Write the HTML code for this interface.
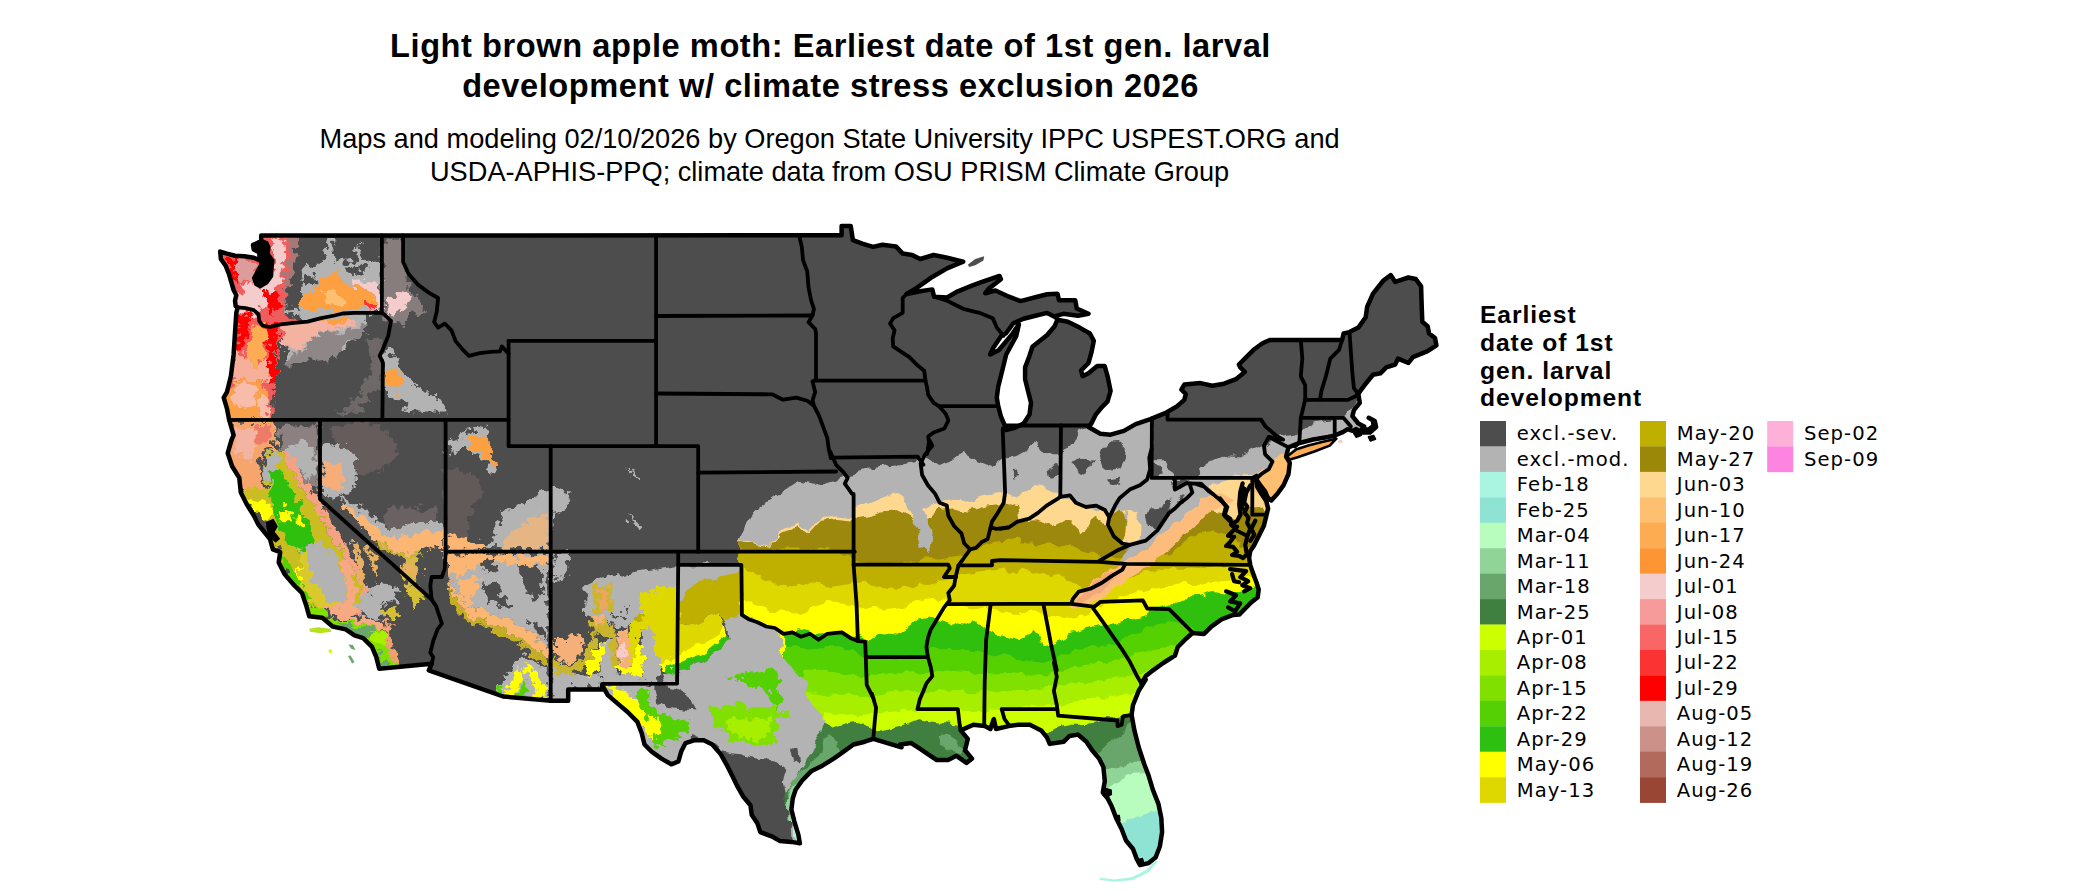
<!DOCTYPE html><html><head><meta charset="utf-8"><title>Light brown apple moth</title>
<style>html,body{margin:0;padding:0;background:#fff}svg{display:block}.t{font-family:"Liberation Sans",sans-serif;fill:#000}.l{font-family:"DejaVu Sans","Liberation Sans",sans-serif;font-size:19.6px;letter-spacing:1.05px;fill:#000}</style></head><body>
<svg width="2100" height="892" viewBox="0 0 2100 892">
<rect width="2100" height="892" fill="#fff"/>
<text class="t" x="830.5" y="57" text-anchor="middle" font-size="32.6" letter-spacing="0.57" font-weight="bold">Light brown apple moth: Earliest date of 1st gen. larval</text>
<text class="t" x="830.5" y="97.2" text-anchor="middle" font-size="32.6" letter-spacing="0.57" font-weight="bold">development w/ climate stress exclusion 2026</text>
<text class="t" x="829.6" y="148.2" text-anchor="middle" font-size="27.2">Maps and modeling 02/10/2026 by Oregon State University IPPC USPEST.ORG and</text>
<text class="t" x="829.6" y="180.7" text-anchor="middle" font-size="27.2">USDA-APHIS-PPQ; climate data from OSU PRISM Climate Group</text>
<text class="t" x="1480" y="323.0" font-size="24.6" letter-spacing="0.96" font-weight="bold">Earliest</text>
<text class="t" x="1480" y="350.8" font-size="24.6" letter-spacing="0.96" font-weight="bold">date of 1st</text>
<text class="t" x="1480" y="378.6" font-size="24.6" letter-spacing="0.96" font-weight="bold">gen. larval</text>
<text class="t" x="1480" y="406.4" font-size="24.6" letter-spacing="0.96" font-weight="bold">development</text>
<rect x="1480" y="421.00" width="26" height="25.74" fill="#4d4d4d"/>
<text class="l" x="1516.8" y="440.4">excl.-sev.</text>
<rect x="1480" y="446.44" width="26" height="25.74" fill="#b3b3b3"/>
<text class="l" x="1516.8" y="465.8">excl.-mod.</text>
<rect x="1480" y="471.88" width="26" height="25.74" fill="#aaf5e1"/>
<text class="l" x="1516.8" y="491.3">Feb-18</text>
<rect x="1480" y="497.32" width="26" height="25.74" fill="#8ee3d3"/>
<text class="l" x="1516.8" y="516.7">Feb-25</text>
<rect x="1480" y="522.76" width="26" height="25.74" fill="#b8fcbe"/>
<text class="l" x="1516.8" y="542.2">Mar-04</text>
<rect x="1480" y="548.20" width="26" height="25.74" fill="#90d498"/>
<text class="l" x="1516.8" y="567.6">Mar-11</text>
<rect x="1480" y="573.64" width="26" height="25.74" fill="#68a66c"/>
<text class="l" x="1516.8" y="593.0">Mar-18</text>
<rect x="1480" y="599.08" width="26" height="25.74" fill="#3f7f3f"/>
<text class="l" x="1516.8" y="618.5">Mar-25</text>
<rect x="1480" y="624.52" width="26" height="25.74" fill="#ccff00"/>
<text class="l" x="1516.8" y="643.9">Apr-01</text>
<rect x="1480" y="649.96" width="26" height="25.74" fill="#a8ee00"/>
<text class="l" x="1516.8" y="669.4">Apr-08</text>
<rect x="1480" y="675.40" width="26" height="25.74" fill="#80e000"/>
<text class="l" x="1516.8" y="694.8">Apr-15</text>
<rect x="1480" y="700.84" width="26" height="25.74" fill="#55d005"/>
<text class="l" x="1516.8" y="720.2">Apr-22</text>
<rect x="1480" y="726.28" width="26" height="25.74" fill="#2ec010"/>
<text class="l" x="1516.8" y="745.7">Apr-29</text>
<rect x="1480" y="751.72" width="26" height="25.74" fill="#ffff00"/>
<text class="l" x="1516.8" y="771.1">May-06</text>
<rect x="1480" y="777.16" width="26" height="25.74" fill="#dfd800"/>
<text class="l" x="1516.8" y="796.6">May-13</text>
<rect x="1640" y="421.00" width="26" height="25.74" fill="#bfb000"/>
<text class="l" x="1676.8" y="440.4">May-20</text>
<rect x="1640" y="446.44" width="26" height="25.74" fill="#9c8808"/>
<text class="l" x="1676.8" y="465.8">May-27</text>
<rect x="1640" y="471.88" width="26" height="25.74" fill="#fed88f"/>
<text class="l" x="1676.8" y="491.3">Jun-03</text>
<rect x="1640" y="497.32" width="26" height="25.74" fill="#fec070"/>
<text class="l" x="1676.8" y="516.7">Jun-10</text>
<rect x="1640" y="522.76" width="26" height="25.74" fill="#fdac52"/>
<text class="l" x="1676.8" y="542.2">Jun-17</text>
<rect x="1640" y="548.20" width="26" height="25.74" fill="#fd9535"/>
<text class="l" x="1676.8" y="567.6">Jun-24</text>
<rect x="1640" y="573.64" width="26" height="25.74" fill="#f5cccc"/>
<text class="l" x="1676.8" y="593.0">Jul-01</text>
<rect x="1640" y="599.08" width="26" height="25.74" fill="#f69a9a"/>
<text class="l" x="1676.8" y="618.5">Jul-08</text>
<rect x="1640" y="624.52" width="26" height="25.74" fill="#f86666"/>
<text class="l" x="1676.8" y="643.9">Jul-15</text>
<rect x="1640" y="649.96" width="26" height="25.74" fill="#fc3333"/>
<text class="l" x="1676.8" y="669.4">Jul-22</text>
<rect x="1640" y="675.40" width="26" height="25.74" fill="#ff0000"/>
<text class="l" x="1676.8" y="694.8">Jul-29</text>
<rect x="1640" y="700.84" width="26" height="25.74" fill="#e8b8b0"/>
<text class="l" x="1676.8" y="720.2">Aug-05</text>
<rect x="1640" y="726.28" width="26" height="25.74" fill="#cc9188"/>
<text class="l" x="1676.8" y="745.7">Aug-12</text>
<rect x="1640" y="751.72" width="26" height="25.74" fill="#b26a5c"/>
<text class="l" x="1676.8" y="771.1">Aug-19</text>
<rect x="1640" y="777.16" width="26" height="25.74" fill="#9a4634"/>
<text class="l" x="1676.8" y="796.6">Aug-26</text>
<rect x="1767.2" y="421.00" width="26" height="25.74" fill="#fdb0d8"/>
<text class="l" x="1804.0" y="440.4">Sep-02</text>
<rect x="1767.2" y="446.44" width="26" height="25.74" fill="#fd84e0"/>
<text class="l" x="1804.0" y="465.8">Sep-09</text>
<defs><clipPath id="us"><path d="M261.2,235.5 L841.6,235.3 L841.6,225.9 L850.7,225.9 L852.9,240.2 L862.3,243.7 L873.1,246.9 L882.5,244.8 L895.9,246.4 L902.7,253.6 L912.1,255 L920.2,259 L933.6,255 L947.1,257.7 L963.2,261.7 L947.1,268.4 L930.9,277.8 L917.5,287.3 L906.7,294 L920.2,291.3 L932.3,289.4 L934.1,296.7 L947.1,297.5 L957.8,291.3 L971.3,285.9 L982,281.9 L999.5,276 L1000.9,279.2 L988.8,288.6 L985.3,293.2 L995.5,290.5 L1008.9,296.7 L1020.6,301.1 L1035.4,297.3 L1047.2,294.3 L1057.5,293.7 L1059,300.2 L1075.2,300.2 L1076.7,308.5 L1088.5,313.8 L1078.1,315.8 L1063.4,313.8 L1056,315.8 L1057.5,319.7 L1067.8,321.7 L1079.6,327.6 L1089.9,333.5 L1093.8,340.9 L1091.4,352.7 L1088.5,363 L1081.1,370.4 L1082.6,376.3 L1088.5,373.3 L1097.3,366 L1104.7,366 L1107.6,376.3 L1110.6,391 L1107.6,401.4 L1101.7,407.3 L1095.8,414.6 L1091.4,423.5 L1088.5,427 L1100.3,433.8 L1110.6,434.7 L1123.9,430.9 L1135.7,424.1 L1150.4,419.1 L1165.1,413.2 L1176.9,406.4 L1184.3,399.9 L1185.8,394 L1181.4,389.6 L1184.3,384.6 L1200.5,383.1 L1212.3,385.7 L1224.1,383.7 L1235.9,379.2 L1244.8,371.9 L1240.3,367.4 L1238.9,364.5 L1244.8,358.6 L1253.6,349.8 L1262.5,343.3 L1269.8,340 L1342.1,340 L1343.6,333.5 L1349.5,332.1 L1358.3,327.6 L1365.7,317.3 L1367.1,307 L1373,293.7 L1383.4,280.5 L1390.7,275.1 L1395.2,281.9 L1408.4,277.5 L1415.8,279 L1421.1,286.4 L1421.7,305.5 L1422.3,321.7 L1427.6,326.2 L1429.1,333.5 L1435,338 L1436.4,345.3 L1427.6,351.2 L1412.9,357.1 L1408.4,363 L1398.1,358.6 L1395.2,364.5 L1386.3,367.4 L1380.4,373.3 L1373,374.8 L1365.7,383.7 L1361.3,389.6 L1358.3,394 L1359.8,402.8 L1353.9,410.2 L1352.4,416.1 L1358.3,423.5 L1364.2,426.4 L1361.3,429.6 L1368.7,429.6 L1373.6,425.9 L1372.9,420.2 L1368.7,417.8 L1374.8,421 L1376.1,427.1 L1369.9,432.6 L1361.3,432.6 L1356.3,429.1 L1352.6,430.8 L1347.7,429.1 L1342.8,432.1 L1334.1,435.8 L1328,437 L1313.2,439.5 L1298.4,443.2 L1288.5,447.4 L1286.1,456.7 L1289.8,462.9 L1288.5,474 L1283.6,485.1 L1277.4,493.7 L1271.3,500.4 L1267.6,497.4 L1265.1,491.3 L1260.2,485.1 L1256,478.9 L1257,486.3 L1261.4,493.7 L1266.3,501.1 L1268.1,508.5 L1266.3,515.9 L1263.9,525.8 L1258.9,535.7 L1254,545.5 L1250.3,550.9 L1249.1,557.8 L1250.3,565.2 L1252.8,572.6 L1256.5,582.5 L1258.7,589.4 L1257.7,597.3 L1251.5,602.2 L1244.1,609.6 L1239.2,614.6 L1233.2,614.9 L1221.5,619.3 L1211.3,626.6 L1204.1,633.9 L1192.4,633 L1186.6,638.2 L1177.8,647 L1174.9,655.7 L1163.2,663 L1153,670.3 L1145.8,676.1 L1141.4,683.4 L1145.7,679.5 L1138.7,690.8 L1133,705 L1131.6,714.8 L1134.4,730.4 L1138.7,747.3 L1144.3,764.3 L1148.6,775.6 L1152.8,789.7 L1158.4,803.8 L1161.3,817.9 L1162.1,832.1 L1159.9,846.2 L1155.6,857.5 L1148.6,863.1 L1140.1,865.1 L1136.7,858.9 L1133,849 L1126,840.5 L1121.7,829.2 L1116.1,817.9 L1111.8,806.6 L1107.6,798.2 L1102.8,792.5 L1104.8,781.2 L1103.4,767.1 L1099.1,758.6 L1092.1,750.2 L1086.4,741.7 L1077.9,734.6 L1069.5,736 L1063.8,741.7 L1049.7,743.9 L1046.9,737.4 L1041.2,730.4 L1029.9,724.7 L1018.6,724.7 L1008.7,726.1 L996,729 L993.8,719.1 L990.4,729 L984.7,726.1 L973.4,724.7 L960.7,730.4 L967.8,738.9 L965,750.2 L972,758.6 L966.4,762.9 L956.5,755.8 L948,760 L936.7,760 L928.2,754.4 L919.8,748.7 L911.3,743.1 L900,744.5 L901.5,747.3 L887.4,743.1 L873.3,738.9 L864.8,741.7 L853.5,744.5 L843.6,751.6 L833.7,758.6 L822.4,765.7 L811.1,771.3 L802.7,779.8 L795.6,789.7 L792.8,798.2 L791.4,809.5 L794.2,820.8 L798.4,834.9 L799.9,843.4 L791.4,841.9 L780.1,841.1 L771.6,836.3 L760.3,832.1 L757.5,823.6 L751.8,815.1 L750.4,805.2 L743.4,796.8 L737.7,786.9 L732.1,775.6 L726.4,764.3 L720.8,754.4 L712.3,744.5 L703.8,740.3 L693.9,740.3 L685.5,743.1 L681.2,751.6 L678.4,761.5 L671.3,764.3 L661.5,758.6 L651.6,751.6 L644.5,744.5 L641.7,733.2 L637.4,721.9 L627.6,712 L617.7,703.6 L607.8,695.1 L602.1,685.2 L602.1,689.4 L568.2,689.4 L568.2,700.7 L551.3,700.7 L503.1,696.5 L428.8,670.3 L431.7,663.8 L379.2,668.8 L376.3,657.1 L372,646.9 L363.2,638.2 L354.5,635.3 L345.7,629.4 L332.6,626.5 L322.4,617.8 L309.3,616.3 L306.4,606.1 L302,593 L293.3,584.3 L284.5,574.1 L278.7,562.4 L280.2,552.2 L272.9,549.3 L270,539.1 L258.3,524.5 L253.9,515.8 L246.6,504.1 L240.8,492.5 L239.3,477.9 L232.1,466.2 L227.7,453.1 L231.5,440 L233.6,435.2 L229.1,419.6 L226.9,408.3 L223.7,397.6 L226.9,392.2 L230.9,376 L233.6,354.5 L235,333 L236.3,312.8 L237.7,307.4 L235.7,306.1 L235,300.7 L236.3,295.3 L233.6,290 L231.6,283.2 L228.9,273.8 L225.6,265.7 L220.9,259 L220.2,251.6 L226.9,253.6 L235,255.7 L244.4,256.3 L253.8,257.7 L259.9,260.4 L259.2,252.3 L253.8,249.6 L253.1,244.9 L257.9,242.9 L261.2,240.2Z"/><path d="M1288,455.7 L1295.9,449.6 L1308.3,445.6 L1323.1,441.7 L1336.4,438.7 L1329.7,445.6 L1314.4,451.5 L1298.4,457 L1288.5,459.9Z"/></clipPath><clipPath id="nolake"><path clip-rule="evenodd" d="M0,0H2100V892H0Z M1056,317.6 L1047.2,312.9 L1035.4,315.8 L1023.6,318.8 L1013.3,323.2 L1005.9,333.5 L1001.9,334.9 L993.3,347.8 L990.1,354.5 L998.7,350.2 L1012.2,334.1 L1018.9,324.4 L1016.2,336.2 L1006.2,354.5 L1002.2,370.7 L998.2,386.8 L996.8,397.6 L998.2,406.2 L1000.9,416.4 L1004.9,425.8 L1005.9,430 L1014.7,427.9 L1023.6,423.5 L1029.5,414.6 L1031,402.8 L1028,391 L1025.1,379.2 L1025.1,367.4 L1029.5,355.7 L1032.4,346.8 L1047.2,335 L1054.6,326.2 L1057.5,319.7Z"/></clipPath></defs>
<defs><filter id="rough" x="0" y="0" width="2100" height="892" filterUnits="userSpaceOnUse"><feTurbulence type="fractalNoise" baseFrequency="0.09" numOctaves="2" seed="7" result="n"/><feDisplacementMap in="SourceGraphic" in2="n" scale="9" xChannelSelector="R" yChannelSelector="G"/></filter><filter id="rough2" x="0" y="0" width="2100" height="892" filterUnits="userSpaceOnUse"><feTurbulence type="fractalNoise" baseFrequency="0.13" numOctaves="3" seed="3" result="n"/><feDisplacementMap in="SourceGraphic" in2="n" scale="16" xChannelSelector="R" yChannelSelector="G"/></filter></defs>
<g clip-path="url(#nolake)"><g clip-path="url(#us)">
<rect x="200" y="200" width="1300" height="692" fill="#4d4d4d"/>
<g filter="url(#rough)">
<path d="M739.2,538.7 L744.6,526.1 L755.4,510 L766.1,502.8 L784.1,490.2 L798.4,481.3 L816.4,484.9 L830.7,481.3 L845.1,475.9 L854,474.1 L866.6,468.7 L880.9,466.9 L902.5,465.1 L916.8,459.7 L924,456.1 L938.4,465.1 L952.7,459.7 L963.5,452.6 L977.8,461.5 L992.2,466.9 L1003.8,457.9 L1016.4,456.1 L1028.9,449 L1034.3,441.8 L1041.5,450.7 L1052.3,454.3 L1059.4,454.3 L1063,452.5 L1073.8,441.8 L1079.2,431 L1088.1,426.5 L1104.3,427.4 L1131.2,422 L1152.7,413.1 L1152.4,460.2 L1164.8,460.2 L1173,477.7 L1197.2,477.7 L1201.4,466.2 L1213.5,460.2 L1225.6,454.7 L1241.7,456.6 L1253.8,450.2 L1263.8,446 L1273.5,438.1 L1285.6,435.1 L1300.7,432 L1309.8,425.1 L1315.8,422.1 L1334,419 L1346.1,415.4 L1353.7,406.3 L1358.2,398.8 L1376.4,398.8 L1376.4,460.8 L1273.5,521.3 L1273.5,892 L739.2,892Z" fill="#b3b3b3"/>
<path d="M739.2,538.7 L751.8,542.3 L769.7,545.9 L780.5,531.5 L798.4,522.5 L809.2,529.7 L819.9,517.1 L837.9,515.4 L852.2,517.1 L855.8,508.2 L866.6,504.6 L880.9,499.2 L895.3,493.8 L909.7,502.8 L916.8,511.8 L931.2,504.6 L938.4,501 L952.7,499.2 L967.1,502.8 L985,495.6 L1004.7,493.8 L1017.3,497.4 L1020,495.1 L1034.4,486.1 L1048.7,487.9 L1059.5,493.3 L1066.6,498.7 L1081,504.1 L1095.4,511.2 L1109.7,507.7 L1124.1,511.2 L1127.7,539.9 L1142,538.2 L1156.4,529.2 L1170.7,518.4 L1181.5,507.7 L1192.2,496.9 L1206.6,487.9 L1213.8,482.5 L1235.3,475.4 L1253.2,473.6 L1267.6,468.2 L1278.4,461 L1292.7,450.2 L1307.1,446.6 L1271.2,507.7 L1271.2,892 L739.2,892Z" fill="#fed88f"/>
<path d="M739.2,540.5 L769.7,546.9 L780.5,534 L798.4,525.4 L809.2,532.6 L819.9,520.7 L837.9,518.9 L852.2,520.7 L856.5,517.1 L866.6,515.4 L880.9,511.8 L895.3,510 L909.7,517.1 L916.8,524.3 L931.2,517.1 L938.4,510 L952.7,508.2 L967.1,511.8 L985,506.4 L1004.7,504.6 L1017.3,508.2 L1020,522 L1034.4,520.2 L1052.3,525.6 L1066.6,518.4 L1081,532.8 L1095.4,518.4 L1106.1,523.8 L1116.9,536.4 L1124.1,543.5 L1170.7,543.5 L1181.5,529.2 L1195.8,518.4 L1210.2,509.4 L1224.5,513 L1235.3,518.4 L1249.7,514.8 L1267.6,518.4 L1267.6,892 L739.2,892Z" fill="#9c8808"/>
<path d="M906.1,499.2 L916.8,504.6 L928.3,513.6 L932.6,533.3 L929,552 L919.7,548.4 L917.5,529.7 L911.4,517.1Z" fill="#b3b3b3"/>
<path d="M739.2,551.2 L769.7,549.4 L787.7,548.4 L823.5,548.4 L852.2,558.4 L866.6,562 L880.9,563.8 L902.5,562 L924,558.4 L938.4,558.4 L952.7,556.6 L967.1,554.8 L981.4,547.7 L992.2,542.3 L1004.7,540.5 L1017.3,537.6 L1020,543.5 L1037.9,543.5 L1055.9,545.3 L1073.8,547.1 L1091.8,552.5 L1106.1,557.9 L1170.7,554.3 L1185.1,541.7 L1199.4,532.8 L1213.8,529.2 L1228.1,536.4 L1242.5,543.5 L1253.2,550.7 L1253.2,892 L739.2,892Z" fill="#bfb000"/>
<path d="M739.2,563.8 L758.9,576.4 L773.3,583.5 L787.7,587.1 L802,581.7 L816.4,583.5 L830.7,587.1 L852.2,583.5 L866.6,581.7 L880.9,587.1 L895.3,588.9 L913.2,587.1 L931.2,583.5 L945.5,579.9 L952.7,576.4 L967.1,572.8 L985,571 L1003,569.2 L1017.3,572.1 L1020,568.7 L1037.9,572.2 L1055.9,575.8 L1070.2,579.4 L1081,586.6 L1091.8,590.2 L1127.7,579.4 L1142,572.2 L1163.5,568.7 L1181.5,568.7 L1199.4,568.7 L1220.9,566.9 L1242.5,565.1 L1256.8,565.1 L1256.8,892 L739.2,892Z" fill="#dfd800"/>
<path d="M739.2,597.9 L751.8,603.3 L769.7,610.4 L787.7,612.2 L802,612.2 L816.4,605.1 L830.7,601.5 L845.1,603.3 L859.4,608.7 L873.8,606.9 L888.1,608.7 L902.5,606.9 L916.8,601.5 L931.2,597.9 L945.5,599.7 L952.7,605.1 L967.1,606.9 L988.6,608.7 L1003,612.2 L1017.3,615.1 L1020,613.5 L1034.4,609.9 L1045.1,615.3 L1055.9,615.3 L1070.2,617.1 L1091.8,611.7 L1098.9,608.1 L1113.3,600.9 L1127.7,595.6 L1145.6,590.2 L1163.5,586.6 L1181.5,583 L1199.4,583 L1220.9,581.2 L1235.3,579.4 L1256.8,575.8 L1256.8,892 L739.2,892Z" fill="#ffff00"/>
<path d="M784.1,635.6 L798.4,630.2 L816.4,633.8 L837.9,632 L855.8,635.6 L866.6,639.2 L880.9,633.8 L895.3,635.6 L909.7,626.6 L916.8,619.4 L931.2,617.6 L945.5,621.2 L959.9,626.6 L974.2,621.2 L988.6,630.2 L1003,635.6 L1017.3,640.2 L1020,636.8 L1034.4,629.7 L1045.1,647.6 L1055.9,644 L1070.2,633.2 L1084.6,629.7 L1098.9,626.1 L1113.3,624.3 L1127.7,618.9 L1145.6,615.3 L1156.4,608.1 L1170.7,604.5 L1185.1,597.4 L1199.4,595.6 L1213.8,592 L1228.1,593.8 L1242.5,590.2 L1260.4,586.6 L1260.4,892 L784.1,892Z" fill="#2ec010"/>
<path d="M784.1,646.3 L802,648.1 L823.5,646.3 L837.9,646.3 L859.4,653.5 L866.6,657.1 L895.3,657.1 L924,655.3 L931.2,648.1 L952.7,649.9 L974.2,649.9 L988.6,655.3 L1010.1,655.3 L1017.3,656.4 L1020,658.4 L1041.5,661.9 L1055.9,658.4 L1073.8,651.2 L1091.8,647.6 L1113.3,644 L1127.7,636.8 L1145.6,629.7 L1163.5,622.5 L1177.9,622.5 L1192.2,629.7 L1199.4,636.8 L1199.4,892 L784.1,892Z" fill="#55d005"/>
<path d="M802,669.7 L823.5,669.7 L841.5,673.2 L866.6,676.8 L880.9,673.2 L902.5,673.2 L924,673.2 L938.4,669.7 L959.9,671.4 L985,673.2 L1010.1,673.2 L1017.3,674 L1020,672.7 L1041.5,676.3 L1055.9,672.7 L1073.8,667.3 L1091.8,663.7 L1113.3,660.2 L1127.7,656.6 L1145.6,651.2 L1163.5,647.6 L1181.5,647.6 L1181.5,892 L802,892Z" fill="#80e000"/>
<path d="M805.6,691.2 L823.5,694.8 L845.1,694.8 L866.6,696.6 L880.9,693 L902.5,691.2 L924,691.2 L945.5,689.4 L967.1,691.2 L988.6,691.2 L1017.3,691.2 L1020,690.7 L1055.9,687.1 L1073.8,683.5 L1091.8,681.7 L1113.3,678.1 L1127.7,676.3 L1142,672.7 L1159.9,665.5 L1159.9,892 L805.6,892Z" fill="#a8ee00"/>
<path d="M823.5,712.7 L841.5,716.3 L866.6,714.5 L880.9,712.7 L902.5,710.9 L924,709.1 L945.5,709.1 L967.1,710.9 L988.6,710.9 L1017.3,709.1 L1020,705 L1055.9,705 L1073.8,701.4 L1091.8,697.8 L1113.3,697.8 L1127.7,694.2 L1142,690.7 L1142,892 L823.5,892Z" fill="#ccff00"/>
<path d="M624.1,573.6 L677.3,565.2 L741.9,565.2 L741.9,573.6 L728.4,575.3 L715,578.7 L698.1,582.1 L688,592.1 L681.3,602.2 L677.3,609 L640.9,600.6 L624.1,607.3Z" fill="#b3b3b3"/>
<path d="M688,590.5 L698.1,581 L715,577.7 L728.4,574.3 L741.9,573 L741.9,619.1 L728.4,627.5 L718.3,612.3 L708.2,615.7 L698.1,624.1 L684.7,625.8 L677.3,624.1 L677.3,590.5 L654.4,590.5 L640.9,597.2 L637.6,610.7 L647.7,624.1 L651,607.3 L667.9,600.6 L677.3,603.9Z" fill="#bfb000"/>
<path d="M640.9,597.2 L651,593.8 L677.3,603.9 L677.3,624.1 L684.7,625.8 L698.1,624.1 L708.2,615.7 L718.3,612.3 L723.4,624.1 L718.3,637.6 L701.5,644.3 L681.3,651 L667.9,661.1 L661.1,667.9 L654.4,661.1 L644.3,640.9 L647.7,624.1 L637.6,610.7Z" fill="#dfd800"/>
<path d="M723.4,624.1 L726.7,635.9 L715,645 L704.9,653.7 L688,661.1 L674.6,667.2 L662.8,669.5 L657.8,664.5 L667.9,659.4 L681.3,649.3 L701.5,642.6 L718.3,635.9Z" fill="#ffff00"/>
<path d="M726.7,635.9 L728.4,640.9 L716.6,651 L705.5,659.4 L688.7,667.9 L674.6,672.9 L664.5,671.9 L662.8,668.9 L674.6,666.5 L688,660.4 L704.9,653 L715,644.3Z" fill="#2ec010"/>
<path d="M728.4,640.9 L727.7,630.8 L723.4,619.1 L741.9,616.7 L758.7,622.4 L775.5,629.2 L782.2,640.9 L780.6,654.4 L789,664.5 L795.7,674.6 L805.8,681.3 L805.8,698.1 L815.9,708.2 L826,721.7 L826.7,735.1 L819.3,748.6 L812.5,762.1 L802.4,772.2 L795.7,782.2 L790.7,795.7 L789.6,809.2 L794,826 L797.4,840.1 L741.9,840.1 L715,755.3 L701.5,741.9 L681.3,768.8 L661.1,768.8 L634.2,735.1 L617.4,708.2 L602.2,684.7 L651,684.7 L656.1,675.3 L664.5,671.9 L674.6,672.9 L688.7,667.9 L705.5,659.4 L716.6,651Z" fill="#b3b3b3"/>
<path d="M688,755.3 L692.4,735.1 L709.2,741.5 L720.7,752 L728.4,754 L741.9,755.3 L758.7,758.7 L775.5,760.4 L786.3,768.8 L782.9,782.2 L784.6,795.7 L789,809.2 L791.7,840.1 L741.9,840.1 L721.7,768.8Z" fill="#4d4d4d"/>
<path d="M654.4,675.3 L661.5,673.9 L664.2,685 L675.6,688 L689.7,696.4 L695.4,710.6 L681.3,709.2 L667.2,707.9 L657.1,700.8 L654.4,690.7Z" fill="#4d4d4d"/>
<path d="M789,748.6 L797.4,750.3 L799.1,762.1 L792.3,763.7Z" fill="#4d4d4d"/>
</g>
<g filter="url(#rough2)">
<path d="M603.9,685.3 L620.7,688 L637.6,701.5 L651,718.3 L661.1,736.8 L652.7,741.9 L640.9,728.4 L624.1,708.2 L607.3,691.4Z" fill="#ffff00"/>
<path d="M634.2,691.4 L644.3,688 L651,701.5 L661.1,715 L681.3,718.3 L691.4,723.4 L688,735.1 L674.6,738.5 L664.5,741.9 L657.8,748.6 L651,741.9 L654.4,728.4 L644.3,715Z" fill="#55d005"/>
<path d="M649.3,718.3 L657.8,716.6 L661.1,728.4 L656.1,735.1 L649.3,730.1Z" fill="#ffff00"/>
<path d="M728.4,677.9 L741.9,674.6 L755.3,672.9 L768.8,667.2 L775.5,671.2 L780.6,681.3 L775.5,688 L782.2,698.1 L778.9,708.2 L772.2,704.9 L768.8,691.4 L758.7,684.7 L752,688.7 L745.2,681.3 L735.1,680Z" fill="#55d005"/>
<path d="M708.2,708.2 L721.7,705.5 L741.9,704.2 L758.7,707.6 L775.5,707.6 L788,715 L776.2,721.7 L779.6,731.8 L772.2,742.5 L758.7,745.9 L741.9,742.5 L728.4,739.2 L721.7,728.4 L711.6,721.7Z" fill="#80e000"/>
<path d="M728.4,721.7 L748.6,718.3 L768.8,720 L772.2,731.8 L758.7,740.2 L741.9,738.5 L730.1,731.8Z" fill="#a8ee00"/>
<path d="M589.4,591.4 L601.5,585.4 L613.6,593.4 L607.5,599.5 L607.5,613.6 L617.6,619.7 L627.7,611.6 L625.7,595.5 L641.9,585.4 L662,575.3 L674.2,567.2 L678.2,591.4 L651.9,593.4 L641.9,601.5 L633.8,619.7 L625.7,629.8 L615.6,625.7 L607.5,621.7 L597.4,617.7 L589.4,611.6Z" fill="#b3b3b3"/>
<path d="M601.5,641.9 L615.6,639.9 L617.6,674.2 L601.5,676.2Z" fill="#b3b3b3"/>
<path d="M552,666.1 L581.3,674.2 L601.5,676.2 L601.5,686.3 L569.2,686.3 L569.2,704.5 L550,704.5Z" fill="#b3b3b3"/>
<path d="M601.5,674.2 L641.9,674.2 L641.9,686.3 L601.5,686.3Z" fill="#b3b3b3"/>
<path d="M553,553.1 L569.2,553.1 L565.2,575.3 L553,581.3Z" fill="#b3b3b3"/>
<path d="M641.9,601.5 L654,593.4 L678.2,591.4 L678.2,611.6 L662,609.6 L651.9,613.6 L639.8,621.7 L633.8,619.7Z" fill="#bfb000"/>
<path d="M633.8,619.7 L639.8,621.7 L651.9,613.6 L662,609.6 L678.2,611.6 L678.2,658 L662,662.1 L656,654 L654,641.9 L649.9,625.7 L641.9,629.8 L637.8,641.9 L633.8,658 L629.7,666.1 L625.7,645.9 L629.7,629.8Z" fill="#dfd800"/>
<path d="M641.9,629.8 L649.9,625.7 L654,641.9 L657,655 L662,663.1 L654,684.3 L641.9,684.3 L643.9,666.1 L641.9,645.9Z" fill="#b3b3b3"/>
<path d="M662,663.1 L678.2,657 L678.2,666.1 L664.1,669.5Z" fill="#ffff00"/>
<path d="M629.7,666.1 L633.8,658 L637.8,641.9 L641.9,645.9 L643.9,666.1 L641.9,676.2 L633.8,674.2 L621.7,674.2 L615.6,666.1 L621.7,658Z" fill="#ffff00"/>
<path d="M664.1,669.5 L678.2,666.1 L678.2,674.2 L666.1,674.6Z" fill="#2ec010"/>
<path d="M552,654 L561.1,664.1 L569.2,668.1 L581.3,660.1 L589.4,645.9 L593.4,631.8 L597.4,633.8 L593.4,650 L585.3,666.1 L571.2,674.2 L559.1,674.2 L552,666.1Z" fill="#c9b52e"/>
<path d="M589.4,617.7 L599.5,605.6 L601.5,585.4 L611.6,591.4 L609.6,609.6 L603.5,619.7 L615.6,629.8 L617.6,637.9 L617.6,666.1 L611.6,666.1 L609.6,637.9 L601.5,631.8 L593.4,631.8Z" fill="#c9b52e"/>
<path d="M585.3,666.1 L593.4,650 L601.5,641.9 L603.5,654 L599.5,670.2 L589.4,676.2Z" fill="#ffff00"/>
<path d="M553,637.9 L569.2,637.9 L581.3,633.8 L585.3,641.9 L577.3,658 L569.2,666.1 L561.1,662.1 L553,650Z" fill="#f4b078"/>
<path d="M617.6,633.8 L625.7,629.8 L629.7,639.9 L630.8,658 L627.7,668.5 L619.7,666.5 L617.6,654 L618.6,641.9Z" fill="#f4b078"/>
<path d="M591.4,618.7 L594.4,611.6 L601.5,607.6 L604.5,593.4 L602.5,588.4 L608.6,592.4 L607.1,607.6 L601.5,619.7 L599.5,627.8Z" fill="#f4b078"/>
<path d="M620.7,641.9 L624.7,639.9 L626.7,658 L622.7,664.1 L620.7,654Z" fill="#f5cccc"/>
<path d="M607.5,599.5 L621.7,591.4 L627.7,611.6 L617.6,619.7 L607.5,613.6Z" fill="#4d4d4d"/>
</g>
<g filter="url(#rough)">
<path d="M818.2,737.4 L825.3,724.7 L833.7,727.6 L845,723.3 L856.3,721.9 L867.6,724.7 L878.9,730.4 L893.1,727.6 L904.4,724.7 L918.5,719.1 L928.2,721.3 L945.2,723.3 L960.7,724.7 L965,733.2 L973.4,769.9 L900,769.9 L850.7,769.9 L794.2,809.5 L782.9,798.2 L794.2,781.2 L802.7,767.1 L811.1,753Z" fill="#3f7f3f"/>
<path d="M825.3,736 L833.7,738.9 L839.4,747.3 L845,753 L822.4,775.6 L799.9,792.5 L791.4,803.8 L785.7,798.2 L792.8,781.2 L801.3,771.3 L811.1,762.9 L822.4,751.6Z" fill="#68a66c"/>
<path d="M801.3,778.4 L809.7,772.7 L815.4,775.6 L797,798.2 L794.2,820.8 L788.6,820.8 L788,798.2 L792.8,786.9Z" fill="#90d498"/>
<path d="M792.2,812.3 L795.6,820.8 L800.4,837.7 L804.1,846.2 L798.4,844.8 L794.2,834.9 L790,820.8Z" fill="#aaf5e1"/>
<path d="M936.7,736 L948,735.5 L956.5,741.1 L965.5,747.3 L962.7,753.5 L950.8,750.7 L939.5,745.1Z" fill="#68a66c"/>
<path d="M1042.6,734.6 L1049.7,730.4 L1058.2,727.6 L1069.5,724.7 L1080.8,724.7 L1097.7,721.9 L1111.8,716.3 L1123.1,714 L1137.3,714 L1137.3,733.2 L1126,734.6 L1097.7,758.6 L1083.6,747.3 L1069.5,741.7 L1049.7,750.2Z" fill="#3f7f3f"/>
<path d="M1094.9,756.4 L1106.2,745.1 L1114.7,739.4 L1123.1,733.8 L1126.5,724.7 L1133,720.5 L1179.6,721.9 L1179.6,892 L1094.9,892Z" fill="#68a66c"/>
<path d="M1097.7,767.1 L1106.2,768.5 L1114.7,770.5 L1126,764.3 L1134.4,761.5 L1179.6,767.7 L1179.6,892 L1097.7,892Z" fill="#90d498"/>
<path d="M1103.4,789.7 L1117.5,784 L1126,775.6 L1134.4,772.7 L1179.6,770.5 L1179.6,892 L1103.4,892Z" fill="#b8fcbe"/>
<path d="M1111.8,825 L1126,823.6 L1134.4,817.9 L1142.9,815.1 L1151.4,812.3 L1179.6,806.6 L1179.6,892 L1111.8,892Z" fill="#8ee3d3"/>
<path d="M1012.8,470.5 L1018.2,469.6 L1019.1,475.9 L1014.6,477.7Z" fill="#4d4d4d"/>
<path d="M1048.7,470.5 L1057.6,463.3 L1059.4,475.9 L1050.5,477.7Z" fill="#4d4d4d"/>
<path d="M1102.5,449 L1107.9,441.8 L1118.7,440.9 L1125.8,447.2 L1124.9,459.7 L1120.4,468.7 L1111.5,470.5 L1102.5,463.3 L1099.8,456.1Z" fill="#4d4d4d"/>
<path d="M1070.2,463.3 L1079.2,459.7 L1095.3,460.6 L1088.1,466.9 L1086.4,474.1 L1079.2,472.3 L1075.6,466.9Z" fill="#4d4d4d"/>
<path d="M1107.9,479.5 L1118.7,477.7 L1121.3,484.8 L1111.5,484.8Z" fill="#4d4d4d"/>
<path d="M1152.7,463.3 L1159.9,465.1 L1161.7,474.1 L1152.7,477.7Z" fill="#4d4d4d"/>
<path d="M1107.4,506.6 L1114.5,500.6 L1120.6,494.5 L1130.6,486.4 L1144.8,478.4 L1152.9,478.4 L1173,478.4 L1209.4,478.4 L1210.4,492.5 L1201.3,498.5 L1197.3,504.6 L1181.1,518.7 L1160.9,534.9 L1144.8,549 L1126.6,561.1 L1118.5,561.1 L1128.6,549 L1126.6,536.9 L1140.7,534.9 L1140.7,520.7 L1134.7,510.6 L1126.6,506.6 L1120.6,508.6 L1112.5,514.7Z" fill="#b3b3b3"/>
<path d="M1144.8,514.7 L1150.8,509.6 L1160.9,508.6 L1165,500.6 L1173,498.5 L1169,508.6 L1165,520.7 L1154.9,528.8 L1146.8,526.8Z" fill="#4d4d4d"/>
<path d="M1173,479.4 L1189.2,480.4 L1181.1,488.4 L1175.1,490.5Z" fill="#4d4d4d"/>
<path d="M1177.1,500.6 L1185.2,494.5 L1181.1,504.6Z" fill="#4d4d4d"/>
<path d="M1201.3,498.5 L1210.4,492.5 L1221.5,495.5 L1235.6,500.6 L1225.5,504.6 L1211.4,510.6 L1199.3,521.8 L1185.2,534.9 L1169,550 L1152.9,563.1 L1132.7,575.2 L1116.5,587.4 L1100.4,599.5 L1084.2,607.5 L1070.1,607.5 L1080.2,591.4 L1100.4,577.3 L1120.6,563.1 L1126.6,561.1 L1144.8,549 L1160.9,534.9 L1181.1,518.7 L1197.3,504.6Z" fill="#fdbc7c"/>
<path d="M1120.6,569.2 L1126.6,565.2 L1110.5,581.3 L1094.3,595.4 L1080.2,603.5 L1074.1,603.5 L1086.2,589.4 L1104.4,575.2Z" fill="#f2a878"/>
<path d="M1110.5,515.7 L1120.6,510.6 L1126.6,520.7 L1126.6,534.9 L1120.6,542.9 L1112.5,534.9 L1108.4,524.8Z" fill="#9c8808"/>
<path d="M1126.6,510.6 L1134.7,511.7 L1140.7,524.8 L1139.7,538.9 L1128.6,547 L1126.6,534.9 L1127.6,520.7Z" fill="#fed88f"/>
<path d="M1253.8,478.4 L1261.9,470.3 L1274,462.2 L1282,452.1 L1292.1,456.1 L1292.1,484.4 L1282,500.6 L1267.9,506.6 L1261.9,500.6 L1253.8,490.5Z" fill="#fec070"/>
<path d="M1237.6,508.6 L1263.9,506.6 L1267.9,516.7 L1261.9,530.8 L1253.8,549 L1241.7,549Z" fill="#9c8808"/>
<path d="M1288,455.7 L1295.9,449.6 L1308.3,445.6 L1323.1,441.7 L1336.4,438.7 L1329.7,445.6 L1314.4,451.5 L1298.4,457 L1288.5,459.9Z" fill="#fdac52"/>
</g>
<g filter="url(#rough2)">
<path d="M214.5,245.2 L261.6,231.7 L297.9,231.7 L295.6,247.4 L291.1,265.3 L286.7,281 L284.4,299 L284.4,314.7 L304.1,323.6 L284.4,330.3 L279.9,341.6 L277.7,359.5 L275.4,381.9 L273.2,404.3 L271,420 L223.4,420 L219,397.6 L227.9,359.5 L230.2,314.7 L227.9,292.2Z" fill="#ef5d5d"/>
<path d="M243.6,285.5 L250.3,278.8 L261.6,288.9 L275,269.8 L277.2,254.1 L282.2,269.8 L277.2,290 L266,300.1 L258.2,314.7 L248.1,314.7 L243.6,299Z" fill="#f5cccc"/>
<path d="M223.4,254.1 L236.9,258.6 L243.6,272.1 L236.9,283.3 L230.2,269.8Z" fill="#ff0000"/>
<path d="M263.8,292.2 L277.2,290 L279.5,310.2 L268.3,314.7Z" fill="#ff0000"/>
<path d="M266,323.6 L278.4,321.4 L277.2,350.5 L275,381.9 L268.7,381.9 L268.7,350.5Z" fill="#ff0000"/>
<path d="M238,314.7 L251.5,314.7 L248.1,330.3 L240.3,350.5 L235.8,350.5Z" fill="#ff0000"/>
<path d="M271.6,238.4 L284,237.3 L285.1,258.6 L281.7,281 L273.9,278.8 L275,258.6Z" fill="#f5cccc"/>
<path d="M287.3,236.2 L297.9,234 L296.3,258.6 L291.8,281 L287.3,314.7 L284,314.7 L285.1,281 L288.4,258.6Z" fill="#a87878"/>
<path d="M234.7,263.1 L245.9,258.6 L255.9,265.3 L253.7,278.8 L243.6,281 L235.8,274.3Z" fill="#dd9c9c"/>
<path d="M234.7,292.2 L245.9,294.5 L254.8,303.4 L248.1,313.5 L236.9,312.4Z" fill="#f5cccc"/>
<path d="M252.6,325.9 L266,324.7 L268.7,337.1 L263.8,350.5 L259.8,364 L252.6,368.4 L248.1,359.5 L250.3,341.6Z" fill="#fdac52"/>
<path d="M234.7,350.5 L248.1,359.5 L252.6,368.4 L259.8,364 L268.7,359.5 L268.7,381.9 L243.6,379.7 L232.4,381.9Z" fill="#f6b09a"/>
<path d="M225.7,388.6 L243.6,378.5 L261.6,381.9 L268.7,395.3 L268.7,420 L223.4,420Z" fill="#f9a04a"/>
<path d="M232.4,386.4 L245.9,381.9 L257.1,388.6 L254.8,404.3 L241.4,408.8 L231.3,402.1Z" fill="#f7bcaa"/>
<path d="M257.1,395.3 L268.3,397.6 L269.4,415.5 L259.3,417.8Z" fill="#f7bcaa"/>
<path d="M299.7,273.2 L306.4,263.1 L315.3,265.3 L323.2,262 L328.8,238.4 L333.3,238.4 L335.5,259.7 L349,262 L355.7,259.7 L358.4,238.4 L361.3,258.6 L378.1,264.2 L381.5,269.8 L381.5,312.4 L366.9,314.7 L362.4,330.3 L353.4,334.8 L344.5,350.5 L326.6,357.2 L308.6,359.5 L295.2,364 L288.4,359.5 L284,346 L286.2,332.6 L304.1,323.6 L299.7,314.7 L286.2,312.4 L288.4,292.2 L299.7,292.2 L304.1,281Z" fill="#b3b3b3"/>
<path d="M286.2,287.8 L299.7,283.7 L301.9,299 L297.4,310.2 L286.2,307.9Z" fill="#4d4d4d"/>
<path d="M304.1,274.3 L315.3,276.6 L315.3,285.5 L306.4,283.7Z" fill="#4d4d4d"/>
<path d="M344.5,265.3 L366.9,267.6 L366.9,274.8 L346.7,273.4Z" fill="#4d4d4d"/>
<path d="M349,283.7 L366.9,281 L380.8,283.3 L381.5,312.9 L366.9,308.4 L375.9,301.2 L371.4,292.2 L357.9,287.8Z" fill="#f5cccc"/>
<path d="M317.6,281 L326.6,276.6 L335.5,269.8 L344.5,283.3 L357.9,287.8 L371.4,292.2 L375.9,301.2 L366.9,305.7 L355.7,310.2 L344.5,314.7 L335.5,311.3 L322.1,307.9 L308.6,310.2 L299.7,303.4 L304.1,294.5 L315.3,292.2Z" fill="#fda043"/>
<path d="M322.1,290 L331,287.8 L344.5,301.2 L340,307.9 L328.8,301.2Z" fill="#fec070"/>
<path d="M366.9,303.4 L375.9,302.3 L377,309.1 L369.1,309.7Z" fill="#fc3333"/>
<path d="M284,323.6 L304.1,323.6 L326.6,319.1 L344.5,316.9 L357.9,319.1 L349,326.3 L335.5,330.3 L322.1,333 L308.6,341.6 L299.7,350.5 L288.4,350.5 L281.7,341.6Z" fill="#f3b3a0"/>
<path d="M322.1,316.9 L344.5,314.7 L353.4,318 L344.5,323.6 L326.6,324.7Z" fill="#fda043"/>
<path d="M310.9,337.1 L335.5,332.1 L353.4,328.1 L366.9,323.6 L364.7,335.3 L344.5,344.2 L335.5,357.7 L310.9,359.9 L299.7,364.4 L288.4,368.9 L290.7,355 L301.9,350.5 L309.7,342.7Z" fill="#8f8787"/>
<path d="M382.6,238.4 L400.5,238.4 L403.2,269.8 L412.2,292.2 L425.6,310.2 L412.2,315.1 L396.5,324.1 L382.6,319.6Z" fill="#877d7d"/>
<path d="M384.8,299 L400.5,292.2 L411.7,296.7 L407.2,307.9 L396,312.4 L387.1,319.1Z" fill="#f5cccc"/>
<path d="M383.7,346 L389.3,348.3 L400.5,368.4 L411.7,381.9 L425.2,390.9 L443.1,402.1 L445.8,411.5 L425.2,411.5 L411.7,413.7 L402.8,402.5 L389.3,395.8 L383.7,386.4Z" fill="#b3b3b3"/>
<path d="M366.9,341.6 L380.3,337.1 L381.5,386.4 L371.8,391.3 L367.3,404.8 L344.9,416 L338.2,413.7 L353.9,400.3 L367.3,382.3 L371.8,359.9Z" fill="#6e6868"/>
<path d="M384.8,368.4 L396,370.7 L402.1,379.7 L398.7,391.3 L389.3,386.8 L383.7,377.4Z" fill="#fda043"/>
<path d="M225.7,421.7 L272.8,421.7 L277.2,432.9 L272.8,444.1 L284,453.1 L288.9,466.6 L299.7,489 L308.6,504.7 L304.1,509.1 L284,471.5 L275,455.3 L268.3,446.4 L261.6,453.1 L259.3,466.6 L263.8,489 L254.8,493.4 L243.6,491.2 L239.1,480 L232.4,466.6 L223.4,455.3 L227.9,437.4Z" fill="#f6a56c"/>
<path d="M234.7,428.4 L252.6,426.2 L257.1,441.9 L250.3,459.8 L239.1,455.3 L232.4,441.9Z" fill="#f4b4a4"/>
<path d="M253.7,424 L269.4,424 L272.8,437.4 L266,445.3 L258.2,439.7Z" fill="#ee7a6a"/>
<path d="M277.2,426.2 L317.6,424 L318.7,489 L308.6,489 L299.7,471 L288.4,462.1 L281.7,448.6Z" fill="#8d8080"/>
<path d="M288.4,444.1 L304.1,440.8 L314.2,448.6 L316.5,471 L308.6,481.1 L300.8,467 L290.7,459.8Z" fill="#b3b3b3"/>
<path d="M238.4,490.4 L254.1,488.2 L266.5,484.8 L263.1,466.9 L266.5,451.2 L281,449 L290,469.1 L299,484.8 L310.2,500.5 L321.4,518.5 L330.4,534.1 L339.3,547.6 L348.3,563.3 L357.3,579 L361.7,594.7 L359.5,608.1 L346,613.7 L332.6,612.6 L319.1,605.9 L305.7,596.9 L296.7,583.5 L283.3,565.5 L276.6,547.6 L269.8,536.4 L265.3,518.5 L247.4,507.2Z" fill="#c9bd24"/>
<path d="M245.2,501.6 L258.6,499.4 L271,505 L273.2,516.2 L267.6,518.5 L251.9,511.7Z" fill="#ffff00"/>
<path d="M299,565.5 L307.9,574.5 L314.7,587.9 L323.6,601.4 L314.7,601.4 L303.5,587.9 L296.7,574.5Z" fill="#ffff00"/>
<path d="M279.9,556.6 L287.8,561 L296.7,574.5 L303.5,587.9 L311.3,601.4 L301.2,601.4 L290,583.5 L281,567.8Z" fill="#55d005"/>
<path d="M282.2,449 L290,450.1 L296.7,466.9 L305.7,482.6 L316.9,498.3 L328.1,516.2 L337.1,531.9 L346,545.4 L355,561 L364,576.7 L368.5,594.7 L365.1,610.4 L350.5,617.1 L332.6,616 L323.6,609.2 L332.6,612.6 L346,613.7 L359.5,608.1 L361.7,594.7 L357.3,579 L348.3,563.3 L339.3,547.6 L330.4,534.1 L321.4,518.5 L310.2,500.5 L299,484.8 L290,469.1Z" fill="#f4a283"/>
<path d="M265.3,453.4 L277.7,451.2 L279.9,469.1 L273.2,472.5 L271,484.8 L265.3,480.3 L263.6,466.9Z" fill="#b3b3b3"/>
<path d="M310.2,540.9 L321.4,545.4 L332.6,556.6 L341.6,570 L346.5,585.7 L345.4,601.4 L337.1,606.3 L325.9,604.1 L319.1,594.7 L312.4,583.5 L307.9,572.3 L305.7,558.8Z" fill="#b3b3b3"/>
<path d="M273.2,471.4 L281,473.6 L290,484.8 L299,500.5 L307.9,518.5 L312.9,534.1 L312.9,545.4 L310.2,561 L303.5,565.5 L299,552.1 L292.2,547.6 L285.5,536.4 L278.8,529.7 L276.6,518.5 L272.1,507.2 L269.8,491.6 L271,478.1Z" fill="#2ec010"/>
<path d="M278.8,511.7 L285.5,509.5 L292.2,516.2 L290,522.3 L281,522.3Z" fill="#ffff00"/>
<path d="M296.7,514 L303.5,516.2 L302.8,525.6 L296.7,524.5Z" fill="#ffff00"/>
<path d="M282.8,503.4 L286.9,502.3 L287.8,506.6 L283.3,507Z" fill="#ffff00"/>
<path d="M299,549.8 L310.2,547.2 L310.6,557 L301.2,557Z" fill="#b3b3b3"/>
<path d="M315.8,547.6 L323.6,549.8 L321.4,555.4 L316.9,553.2Z" fill="#4d4d4d"/>
<path d="M311.3,570 L321.4,567.8 L319.1,576.7 L313.5,575.6Z" fill="#4d4d4d"/>
<path d="M321.2,445.9 L336.9,443.6 L354.8,454.8 L356,484 L345.9,495.2 L330.2,497.4 L321.2,490.7Z" fill="#b3b3b3"/>
<path d="M322.3,463.8 L334.7,462.7 L343.6,470.5 L343.6,486.2 L330.2,489.6 L322.3,484Z" fill="#f7ad78"/>
<path d="M330.2,425.7 L368.3,421.2 L390.7,434.7 L399.7,454.8 L384,468.3 L357.1,475 L354.8,454.8 L336.9,443.6Z" fill="#665c5c"/>
<path d="M341.4,496.3 L354.8,503 L368.3,514.3 L381.7,524.8 L395.2,529.3 L408.7,525.5 L422.1,521 L435.6,521 L443.9,524.3 L443.9,544.5 L431.1,547.2 L417.6,553.5 L404.2,553.9 L390.7,549.5 L377.3,540.5 L363.8,529.3 L352.6,518.1 L343.6,506.9Z" fill="#b3b3b3"/>
<path d="M384,508.7 L395.2,504.2 L404.2,510.9 L415.4,506.4 L426.6,510.9 L435.6,508.7 L435.6,521 L422.1,521 L408.7,525.5 L395.2,529.3 L386.2,526.6Z" fill="#6a6262"/>
<path d="M345.9,504.2 L358.2,512 L370.5,523.2 L382.9,533.3 L395.2,538.3 L408.7,535.6 L422.1,532.2 L435.6,531.1 L443.9,532.2 L443.9,544.5 L431.1,547.2 L417.6,553.5 L404.2,553.9 L390.7,549.5 L377.3,540.5 L363.8,529.3 L352.6,518.1 L343.6,506.9Z" fill="#fbb673"/>
<path d="M377.3,540.5 L390.7,549.5 L404.2,553.9 L417.6,553.5 L422.1,551.7 L422.1,555.7 L415.4,559.1 L404.2,558.4 L390.7,553.9 L377.3,544.5Z" fill="#c9b52e"/>
<path d="M404.2,555.7 L415.4,558 L422.1,571.4 L415.4,580.4 L406.4,573.7Z" fill="#d8b850"/>
<path d="M399.7,564.7 L406.4,567 L415.4,582.6 L426.6,596.1 L419.9,598.3 L408.7,587.1Z" fill="#d8b850"/>
<path d="M363.8,587.1 L384,582.6 L399.7,589.4 L395.2,600.6 L377.3,600.6Z" fill="#b3b3b3"/>
<path d="M300,552.1 L306.1,548.1 L316.1,584.4 L328.3,600.6 L340.4,607.6 L324.2,613.1 L312.1,605 L304,590.9 L300,586.8Z" fill="#d9c92a"/>
<path d="M306.1,546.1 L320.2,544 L336.3,556.1 L344.8,576.3 L346.8,600.6 L340.4,607 L328.3,600.6 L316.1,584.4 L308.1,566.2Z" fill="#b3b3b3"/>
<path d="M326.2,605 L340.4,607 L347.4,600.6 L345.4,576.3 L340.4,558.2 L347.4,556.1 L352.9,580.4 L356.5,600.6 L352.9,617.1 L380.7,621.1 L389.2,629.2 L380.7,631.2 L366.6,625.2 L350.5,621.1 L332.3,615.1Z" fill="#f6a982"/>
<path d="M354.5,607.6 L360.6,598.9 L376.7,592.9 L384.8,584.8 L397.3,590.9 L389.2,601 L381.1,609 L387.2,615.1 L377.1,619.1 L360.6,615.1Z" fill="#b3b3b3"/>
<path d="M300,594.5 L306.1,598.5 L316.1,608.6 L328.3,616.7 L340.4,621.1 L352.5,621.1 L366.6,625.2 L379.1,629.2 L387.2,635.3 L389.2,649.4 L393.3,661.5 L398.9,667.2 L376.7,673.2 L366.6,653 L340.4,634.9 L312.1,624.8 L300,608.6Z" fill="#80e000"/>
<path d="M336.3,622.8 L360.6,626.8 L375.1,629.2 L371.1,637.3 L360.6,640.9 L344.4,632.9Z" fill="#68a66c"/>
<path d="M375.1,649.4 L385.2,661.5 L381.1,669.2 L376.7,661.1Z" fill="#68a66c"/>
<path d="M371.1,633.3 L385.2,631.2 L389.2,645.4 L381.1,645.4 L373.1,641.3Z" fill="#a8ee00"/>
<path d="M384.8,620.7 L390.8,624.8 L388.8,634.9 L394.9,649 L398.9,665.2 L393.9,665.2 L388.8,650 L386.8,636.9Z" fill="#f0a070"/>
<path d="M352.9,542 L357.5,545 L363,560.2 L365,580.4 L361,590.5 L358.5,580.4 L359.5,564.2 L354.1,552.1Z" fill="#e8b060"/>
<path d="M364.2,545 L368.6,544 L375.7,560.2 L379.1,575.3 L375.5,577.3 L370.6,564.2Z" fill="#e8b060"/>
<path d="M404,563.2 L413,565.2 L420.1,574.3 L413,577.3 L406,572.3Z" fill="#e8b060"/>
<path d="M405.4,586.8 L417.5,590.9 L423.5,601 L413.4,609 L409.4,598.9Z" fill="#d4c030"/>
<path d="M380.7,610.6 L394.9,606.6 L400.9,616.7 L388.8,620.7Z" fill="#d4c030"/>
<path d="M446.3,554.1 L548.3,554.1 L548.3,653 L542.2,640.9 L526.1,628.8 L509.9,620.7 L493.8,616.7 L481.7,608.6 L467.5,608.6 L457.4,592.5 L447.4,576.3Z" fill="#b3b3b3"/>
<path d="M446.3,554.1 L461.5,553.1 L481.7,555.1 L501.9,553.1 L522,557.2 L547.3,555.1 L547.3,562.2 L522,565.2 L501.9,562.2 L481.7,566.2 L465.5,570.3 L457.4,580.4 L453.4,572.3 L447.4,574.3Z" fill="#fbb673"/>
<path d="M447.4,576.3 L457.4,592.5 L467.5,608.6 L481.7,608.6 L493.8,616.7 L509.9,620.7 L526.1,628.8 L542.2,640.9 L548.3,649 L548.3,659.1 L538.2,651 L522,639.9 L505.9,630.2 L493.8,624.2 L481.7,619.7 L469.6,616.3 L458.5,603 L449.4,590.5Z" fill="#fbb673"/>
<path d="M448.4,589.5 L458.5,603 L469.6,616.3 L481.7,619.7 L493.8,624.2 L505.9,630.2 L522,639.9 L538.2,651 L548.3,659.1 L548.3,667.2 L538.2,659.1 L522,647 L505.9,636.9 L493.8,630.8 L481.7,626.4 L468.6,622.8 L456.4,608.6 L448.4,596.5Z" fill="#c4ae28"/>
<path d="M459.5,580.4 L473.6,576.3 L481.7,577.3 L477.6,586.4 L469.6,600.6 L473.6,608.6 L465.5,604.6 L459.5,594.5Z" fill="#fbb673"/>
<path d="M481.7,560.2 L494.2,558.2 L498.2,572.3 L486.1,574.7Z" fill="#4d4d4d"/>
<path d="M481.7,584.8 L498.2,580.4 L502.3,594.9 L514.4,607 L502.3,609 L490.1,601Z" fill="#4d4d4d"/>
<path d="M518,564.2 L538.6,566.2 L542.6,592.9 L532.5,601 L522.4,580.4Z" fill="#4d4d4d"/>
<path d="M528.1,620.7 L542.2,624.8 L547.3,640.9 L534.2,630.8Z" fill="#4d4d4d"/>
<path d="M493.8,699.5 L501.9,681.3 L511.9,665.2 L522,653 L534.2,661.1 L548.3,669.2 L548.3,700.5 L505.9,700.5Z" fill="#b3b3b3"/>
<path d="M503.9,699.5 L509.9,681.3 L518,669.2 L524.1,671.2 L518,685.3 L516,699.5Z" fill="#ffff00"/>
<path d="M522,661.1 L532.1,669.2 L542.2,681.3 L547.3,699.5 L538.2,699.5 L532.1,681.3 L524.1,669.2Z" fill="#ffff00"/>
<path d="M518,699.5 L520,687.4 L524.1,681.3 L530.1,693.4 L532.1,699.5Z" fill="#55d005"/>
<path d="M496.8,699.5 L499.8,687.4 L503.9,685.3 L502.9,699.5Z" fill="#55d005"/>
<path d="M447.3,455.7 L452.1,441.2 L464.2,433.9 L483.6,426.6 L488.4,436.3 L490.9,453.3 L498.1,467.8 L490.9,475.1 L486,460.6 L469.1,448.4 L454.5,452.1Z" fill="#b3b3b3"/>
<path d="M465.4,436.3 L478.8,435.1 L488.4,438.8 L492.1,455.7 L496.9,466.6 L492.1,469 L483.6,454.5 L471.5,448.4Z" fill="#fda043"/>
<path d="M444.8,467.8 L471.5,472.7 L483.6,492 L471.5,509 L464.2,545.3 L444.8,545.3Z" fill="#625a58"/>
<path d="M486,547.7 L495.7,530.8 L503,513.8 L517.5,506.6 L532,496.9 L546.6,489.6 L553.8,487.2 L570.8,492 L566,506.6 L553.8,513.8 L548.3,550.2Z" fill="#b3b3b3"/>
<path d="M500.6,548.2 L510.2,532 L522.4,522.3 L536.9,516.3 L548.3,512.6 L548.3,548.2Z" fill="#e6b584"/>
<path d="M444.8,535.6 L464.2,538.1 L486,545.3 L486,550.7 L444.8,550.7Z" fill="#fbb673"/>
<path d="M551.9,557.4 L566,557.4 L568.4,574.4 L553.8,576.8Z" fill="#b3b3b3"/>
<path d="M585.3,584.1 L609.5,574.4 L624.1,576.8 L628.9,593.8 L624.1,616.1 L585.3,616.1Z" fill="#b3b3b3"/>
<path d="M633.8,588.9 L648.3,579.2 L677.4,574.4 L677.4,616.1 L633.8,616.1Z" fill="#b3b3b3"/>
<path d="M592.6,586.5 L609.5,584.1 L613.2,613.1 L595,613.1Z" fill="#c9b52e"/>
<path d="M598.6,587.7 L607.1,586.5 L608.3,610.7 L600.3,610.7Z" fill="#e8a860"/>
<path d="M641,593.8 L658,588.9 L677.4,586.5 L677.4,616.1 L641,616.1Z" fill="#dfd800"/>
<path d="M628.4,463.5 L631.3,472.7 L641.5,479.4 L639.1,482.8 L629.7,475.6Z" fill="#b3b3b3"/>
<path d="M629.7,513.4 L633.8,519.9 L641.5,526 L639.1,528.4 L630.9,521.6Z" fill="#b3b3b3"/>
<path d="M551.9,488.4 L566,492 L570.8,504.2 L561.1,506.6 L552.6,499.3Z" fill="#b3b3b3"/>
</g>
</g></g>
<path d="M968,264.4 L975.3,259 L984.2,256.3 L983.4,260.4 L975.3,265.2 L969.1,267.1Z" fill="#4d4d4d"/>
<g fill="none" stroke="#000" stroke-width="3.8" stroke-linejoin="round" stroke-linecap="round">
<path d="M237.7,307.4 L245.7,308.1 L253.8,310.1 L258.5,314.2 L259.2,320.9 L262.6,325.6 L270,327 L280.7,324.3 L294.2,322.9 L307.6,321.6 L321.1,318.2 L334.5,315.5 L342.6,313.5 L354.7,312.8 L381.9,312.8"/>
<path d="M381.9,235.5 L381.9,312.8 L383.8,314.2 L391,320.9 L388.3,335.7 L382.9,349.1 L379.7,355.9 L382.9,362.6 L382.4,419.6"/>
<path d="M403.1,235.3 L403.1,261.7 L408.5,273.8 L417.9,284.6 L428.7,292.6 L438.1,298 L436.8,311.5 L434.1,322.2 L438.1,327.6 L444.8,323.6 L451.5,330.3 L455.6,341.1 L462.3,349.1 L469,355.9 L479.8,353.2 L490.6,351.8 L500,351.3 L501.9,346.4 L508.6,353.7"/>
<path d="M229.1,419.9 L508.6,419.9"/>
<path d="M320,419.9 L320,499 L431.7,599.7"/>
<path d="M445.6,419.9 L445.6,551.7 L445.7,550.8 L444.8,568.2 L441.9,577 L431.7,577 L430.3,585.7 L431.7,599.7 L436.1,606.1 L439,614.9 L441.9,623.6 L437.5,629.4 L433.2,641.1 L430.3,652.8 L433.2,657.1 L431.7,663.8"/>
<path d="M445.6,551.7 L854.8,551.7"/>
<path d="M508.6,340.8 L508.6,446.2 L698.2,446.2 L698.2,551.7"/>
<path d="M508.6,340.8 L656.1,340.8"/>
<path d="M656.1,235.3 L656.1,446.2"/>
<path d="M550.7,446.2 L550.7,701.2"/>
<path d="M656.1,316 L812.5,315.5"/>
<path d="M656.1,393.5 L772.2,394.3 L782.9,399.7 L796.4,397.6 L807.2,400.8 L813.9,405.6"/>
<path d="M799.1,235.3 L801.8,246.9 L803.1,260.4 L807.2,271.1 L808.5,287.3 L811.2,300.7 L813.9,308.8 L812.5,315.5 L808.5,322.2 L815.2,329 L816,333 L816,380.1 L812.5,381.4 L815.2,392.2 L812.5,400.3 L813.9,405.6 L819.3,416.4 L823.3,427.2 L827.3,437.9 L828.7,448.7 L830.8,458.1 L830.3,451.7 L836.1,464.8 L843.4,472.1 L847.7,477.9 L844.8,483.7 L852.1,493.9 L853.6,493.9 L853.6,564.7 L856.5,603.2 L857.9,641.1 L865.2,641.7 L865.8,657.1 L866.7,684.8 L871.1,693.6 L874,700 L871.9,693.7 L876.1,707.8 L874.7,721.9 L873.3,738.9"/>
<path d="M816,380.6 L925.5,380.6"/>
<path d="M698.2,472.6 L836.1,471.5"/>
<path d="M830.8,457.6 L917.7,456.6 L923.5,464.8"/>
<path d="M906.7,294 L902.7,298 L902.7,312.8 L893.2,318.2 L890,323.6 L894.6,330.3 L892.7,338.4 L893.2,346.4 L901.3,351.8 L909.4,357.2 L917.5,365.3 L924.2,370.7 L925.5,380.6 L926.9,386.8 L928.2,394.9 L933.6,402.9 L939,406.2 L945.7,413.7 L948.4,420.4 L944.4,428.5 L933.6,432.5 L928.2,436.6 L929.6,446 L926.9,454.1 L929.4,440 L932.3,445.8 L925,454.6 L920.6,463.3 L922.1,475 L927.9,485.2 L935.2,493.9 L939.6,502.7 L946.8,505.6 L948.3,515.8 L954.1,526 L961.4,533.3 L964.3,543.5 L970.2,549.3 L962.9,559.5 L958.5,565.3 L955.6,577 L954.1,585.7 L948.3,593 L949.8,600.3 L943.9,607.6 L939.6,614.9 L935.2,622.2 L930.8,629.4 L927.9,638.2 L926.4,646.9 L927.9,657.1 L930.8,667.3 L932.3,676.1 L926.4,683.4 L923.5,690.7 L919.8,699.3 L917.5,709.2 L957.9,709.2 L959.3,721.9 L960.7,730.4"/>
<path d="M934.1,296.7 L947.1,300.7 L963.2,308.8 L979.3,312.8 L992.8,318.2 L996.8,327.6 L1003.6,335.7"/>
<path d="M939,406.2 L997.6,406.2"/>
<path d="M1002.7,428.5 L1005.1,492.5 L1003.7,502.7 L997.8,512.9 L992,521.6 L990.6,527.4"/>
<path d="M1005.9,425.5 L1088.5,425.5"/>
<path d="M1061,425.5 L1060.3,496.8"/>
<path d="M970.2,549.3 L976,547.8 L981.8,542 L987.6,539.1 L990.6,527.4 L996.4,528.9 L1008,527.4 L1000,528.9 L1008.7,527.5 L1017.5,521.6 L1029.2,518.7 L1037.9,512.9 L1046.6,505.6 L1058.3,498.3 L1060.3,496.8 L1070,495.4 L1075.8,502.7 L1086,507 L1096.2,505.6 L1104.9,510 L1109.3,517.3 L1115.1,505.6 L1119.5,498.3 L1129.7,489.6 L1139.9,485.2 L1147.2,479.4 L1150.1,469.2 L1149.3,457.5 L1151.6,448.7"/>
<path d="M1151.9,418.5 L1151.6,477.9 L1252.2,477.9 L1256.5,475.6"/>
<path d="M1167.5,412.3 L1167.5,419.6 L1261,419.6 L1265.4,426.4 L1275.7,435.3 L1283.1,439.7 L1268.8,437 L1263.9,445.6 L1265.1,454.3 L1272.5,461.7 L1268.8,469.1 L1261.4,474 L1256,478.9"/>
<path d="M1268.8,437 L1288.5,447.4"/>
<path d="M1300.8,340 L1302.3,358.6 L1300.8,376.3 L1305.2,385.1 L1305.2,399.9 L1300.8,417.9 L1299.3,442.6 L1294.9,446.5"/>
<path d="M1342.1,340 L1339.1,349.8 L1330.3,358.6 L1325.9,376.3 L1321.4,391 L1320,399.9"/>
<path d="M1305.2,399.9 L1348,399.9 L1355.4,396.3 L1358.3,393.4"/>
<path d="M1349.5,332.7 L1350.9,352.7 L1352.4,373.3 L1353.9,388.1 L1358.3,394"/>
<path d="M1300.8,417.9 L1343.6,417.9 L1350.9,426.4"/>
<path d="M1334.7,417.9 L1334.7,436.8"/>
<path d="M1109.3,517.3 L1107.9,524.5 L1113.7,536.2 L1122.4,543.5 L1129.7,544.9 L1116.6,550.8 L1099.1,561"/>
<path d="M1129.7,544.9 L1145.8,540.6 L1157.4,530.4 L1163.2,521.6 L1169.1,512.9 L1174.9,508.5 L1180.7,502.7 L1186.6,498.3 L1192.4,492.5 L1189.5,483.7 L1201.1,483.7 L1208.4,491 L1212.8,493.9 L1204.1,486.6 L1195.3,483.7 L1186.6,483.1 L1174.9,489.6 L1174.9,477.9"/>
<path d="M1212.8,493.9 L1221.5,501.2 L1227.4,507 L1224.5,515.8 L1230.3,521.6 L1236.1,530.4 L1244.9,534.7"/>
<path d="M1252.3,479.4 L1252.3,514.7 L1265.1,514.7"/>
<path d="M958.5,565.3 L992,565.3 L992,561 L1000,560.1 L1099.1,561.9 L1125.3,563.9 L1247.8,564.8"/>
<path d="M853.6,564.7 L948.3,564.7 L949.8,568.2 L943.9,577 L956.2,577"/>
<path d="M1125.3,563.9 L1122.4,569.7 L1112.2,575.6 L1102,582.8 L1090.4,588.7 L1078.7,591.6 L1072.9,598.9 L1071.4,603.2"/>
<path d="M946.8,604.1 L1071.4,603.8 L1093.3,606.7"/>
<path d="M1093.3,607.6 L1100.6,601.8 L1142.8,600.3 L1147.2,608.5 L1169.1,609.1 L1192.4,632.4"/>
<path d="M1093.3,608.5 L1102,620.7 L1112.2,635.3 L1122.4,649.9 L1129.7,661.5 L1137,676.1 L1141.4,683.4"/>
<path d="M990.6,604.7 L986.1,640 L984.7,682.4 L984.2,724.7"/>
<path d="M1043.7,605.6 L1051,644.1 L1056.8,670.3 L1053.9,662.6 L1056.8,676.7 L1053.9,690.8 L1056.8,705 L1058.2,715.7 L1117.5,720.5 L1117.5,726.1 L1121.7,724.7 L1123.1,716.3 L1131.6,714.8"/>
<path d="M1008.7,724.7 L1004.5,719.1 L1001.7,709.2 L1056.8,709.2"/>
<path d="M865.8,657.1 L927,657.1"/>
<path d="M678.2,551.7 L678.2,564.9 L677.1,683.6 L602.1,683.8"/>
<path d="M678.2,564.9 L741.4,564.9 L741.9,614.9 L748.6,619.2 L757.4,622.2 L766.1,626.5 L774.9,628 L783.6,633.8 L792.4,632.4 L801.1,636.7 L809.9,633.8 L818.6,639.7 L827.3,633.8 L836.1,632.9 L841.9,632.4 L850.7,638.2 L857.9,641.1"/>
<path d="M261.2,235.5 L841.6,235.3 L841.6,225.9 L850.7,225.9 L852.9,240.2 L862.3,243.7 L873.1,246.9 L882.5,244.8 L895.9,246.4 L902.7,253.6 L912.1,255 L920.2,259 L933.6,255 L947.1,257.7 L963.2,261.7 L947.1,268.4 L930.9,277.8 L917.5,287.3 L906.7,294 L920.2,291.3 L932.3,289.4 L934.1,296.7 L947.1,297.5 L957.8,291.3 L971.3,285.9 L982,281.9 L999.5,276 L1000.9,279.2 L988.8,288.6 L985.3,293.2 L995.5,290.5 L1008.9,296.7 L1020.6,301.1 L1035.4,297.3 L1047.2,294.3 L1057.5,293.7 L1059,300.2 L1075.2,300.2 L1076.7,308.5 L1088.5,313.8 L1078.1,315.8 L1063.4,313.8 L1056,315.8 L1057.5,319.7 L1067.8,321.7 L1079.6,327.6 L1089.9,333.5 L1093.8,340.9 L1091.4,352.7 L1088.5,363 L1081.1,370.4 L1082.6,376.3 L1088.5,373.3 L1097.3,366 L1104.7,366 L1107.6,376.3 L1110.6,391 L1107.6,401.4 L1101.7,407.3 L1095.8,414.6 L1091.4,423.5 L1088.5,427 L1100.3,433.8 L1110.6,434.7 L1123.9,430.9 L1135.7,424.1 L1150.4,419.1 L1165.1,413.2 L1176.9,406.4 L1184.3,399.9 L1185.8,394 L1181.4,389.6 L1184.3,384.6 L1200.5,383.1 L1212.3,385.7 L1224.1,383.7 L1235.9,379.2 L1244.8,371.9 L1240.3,367.4 L1238.9,364.5 L1244.8,358.6 L1253.6,349.8 L1262.5,343.3 L1269.8,340 L1342.1,340 L1343.6,333.5 L1349.5,332.1 L1358.3,327.6 L1365.7,317.3 L1367.1,307 L1373,293.7 L1383.4,280.5 L1390.7,275.1 L1395.2,281.9 L1408.4,277.5 L1415.8,279 L1421.1,286.4 L1421.7,305.5 L1422.3,321.7 L1427.6,326.2 L1429.1,333.5 L1435,338 L1436.4,345.3 L1427.6,351.2 L1412.9,357.1 L1408.4,363 L1398.1,358.6 L1395.2,364.5 L1386.3,367.4 L1380.4,373.3 L1373,374.8 L1365.7,383.7 L1361.3,389.6 L1358.3,394 L1359.8,402.8 L1353.9,410.2 L1352.4,416.1 L1358.3,423.5 L1364.2,426.4 L1361.3,429.6 L1368.7,429.6 L1373.6,425.9 L1372.9,420.2 L1368.7,417.8 L1374.8,421 L1376.1,427.1 L1369.9,432.6 L1361.3,432.6 L1356.3,429.1 L1352.6,430.8 L1347.7,429.1 L1342.8,432.1 L1334.1,435.8 L1328,437 L1313.2,439.5 L1298.4,443.2 L1288.5,447.4 L1286.1,456.7 L1289.8,462.9 L1288.5,474 L1283.6,485.1 L1277.4,493.7 L1271.3,500.4 L1267.6,497.4 L1265.1,491.3 L1260.2,485.1 L1256,478.9 L1257,486.3 L1261.4,493.7 L1266.3,501.1 L1268.1,508.5 L1266.3,515.9 L1263.9,525.8 L1258.9,535.7 L1254,545.5 L1250.3,550.9 L1249.1,557.8 L1250.3,565.2 L1252.8,572.6 L1256.5,582.5 L1258.7,589.4 L1257.7,597.3 L1251.5,602.2 L1244.1,609.6 L1239.2,614.6 L1233.2,614.9 L1221.5,619.3 L1211.3,626.6 L1204.1,633.9 L1192.4,633 L1186.6,638.2 L1177.8,647 L1174.9,655.7 L1163.2,663 L1153,670.3 L1145.8,676.1 L1141.4,683.4 L1145.7,679.5 L1138.7,690.8 L1133,705 L1131.6,714.8 L1134.4,730.4 L1138.7,747.3 L1144.3,764.3 L1148.6,775.6 L1152.8,789.7 L1158.4,803.8 L1161.3,817.9 L1162.1,832.1 L1159.9,846.2 L1155.6,857.5 L1148.6,863.1 L1140.1,865.1 L1136.7,858.9 L1133,849 L1126,840.5 L1121.7,829.2 L1116.1,817.9 L1111.8,806.6 L1107.6,798.2 L1102.8,792.5 L1104.8,781.2 L1103.4,767.1 L1099.1,758.6 L1092.1,750.2 L1086.4,741.7 L1077.9,734.6 L1069.5,736 L1063.8,741.7 L1049.7,743.9 L1046.9,737.4 L1041.2,730.4 L1029.9,724.7 L1018.6,724.7 L1008.7,726.1 L996,729 L993.8,719.1 L990.4,729 L984.7,726.1 L973.4,724.7 L960.7,730.4 L967.8,738.9 L965,750.2 L972,758.6 L966.4,762.9 L956.5,755.8 L948,760 L936.7,760 L928.2,754.4 L919.8,748.7 L911.3,743.1 L900,744.5 L901.5,747.3 L887.4,743.1 L873.3,738.9 L864.8,741.7 L853.5,744.5 L843.6,751.6 L833.7,758.6 L822.4,765.7 L811.1,771.3 L802.7,779.8 L795.6,789.7 L792.8,798.2 L791.4,809.5 L794.2,820.8 L798.4,834.9 L799.9,843.4 L791.4,841.9 L780.1,841.1 L771.6,836.3 L760.3,832.1 L757.5,823.6 L751.8,815.1 L750.4,805.2 L743.4,796.8 L737.7,786.9 L732.1,775.6 L726.4,764.3 L720.8,754.4 L712.3,744.5 L703.8,740.3 L693.9,740.3 L685.5,743.1 L681.2,751.6 L678.4,761.5 L671.3,764.3 L661.5,758.6 L651.6,751.6 L644.5,744.5 L641.7,733.2 L637.4,721.9 L627.6,712 L617.7,703.6 L607.8,695.1 L602.1,685.2 L602.1,689.4 L568.2,689.4 L568.2,700.7 L551.3,700.7 L503.1,696.5 L428.8,670.3 L431.7,663.8 L379.2,668.8 L376.3,657.1 L372,646.9 L363.2,638.2 L354.5,635.3 L345.7,629.4 L332.6,626.5 L322.4,617.8 L309.3,616.3 L306.4,606.1 L302,593 L293.3,584.3 L284.5,574.1 L278.7,562.4 L280.2,552.2 L272.9,549.3 L270,539.1 L258.3,524.5 L253.9,515.8 L246.6,504.1 L240.8,492.5 L239.3,477.9 L232.1,466.2 L227.7,453.1 L231.5,440 L233.6,435.2 L229.1,419.6 L226.9,408.3 L223.7,397.6 L226.9,392.2 L230.9,376 L233.6,354.5 L235,333 L236.3,312.8 L237.7,307.4 L235.7,306.1 L235,300.7 L236.3,295.3 L233.6,290 L231.6,283.2 L228.9,273.8 L225.6,265.7 L220.9,259 L220.2,251.6 L226.9,253.6 L235,255.7 L244.4,256.3 L253.8,257.7 L259.9,260.4 L259.2,252.3 L253.8,249.6 L253.1,244.9 L257.9,242.9 L261.2,240.2Z" stroke-width="4.5"/>
<path d="M1056,317.6 L1047.2,312.9 L1035.4,315.8 L1023.6,318.8 L1013.3,323.2 L1005.9,333.5 L1001.9,334.9 L993.3,347.8 L990.1,354.5 L998.7,350.2 L1012.2,334.1 L1018.9,324.4 L1016.2,336.2 L1006.2,354.5 L1002.2,370.7 L998.2,386.8 L996.8,397.6 L998.2,406.2 L1000.9,416.4 L1004.9,425.8 L1005.9,430 L1014.7,427.9 L1023.6,423.5 L1029.5,414.6 L1031,402.8 L1028,391 L1025.1,379.2 L1025.1,367.4 L1029.5,355.7 L1032.4,346.8 L1047.2,335 L1054.6,326.2 L1057.5,319.7Z" stroke-width="4.5"/>
<path d="M1288,455.7 L1295.9,449.6 L1308.3,445.6 L1323.1,441.7 L1336.4,438.7 L1329.7,445.6 L1314.4,451.5 L1298.4,457 L1288.5,459.9Z" stroke-width="2.6"/>
<path d="M1242.6,483.4 L1240.2,492.4 L1239.2,504.5 L1240.6,514.6 L1237.1,520.7 L1231.1,524.7 L1237.1,526.7 L1232.1,531.8 L1228.1,535.8 L1234.1,536.8 L1230.1,541.9 L1226.1,545.9 L1233.1,546.9 L1237.1,551.9 L1232.1,555 L1239.2,556 L1243.2,558 L1247.2,554" stroke-width="4.2"/>
<path d="M1250.3,485.4 L1246.2,492.8 L1244.2,502.5 L1247.2,506.6 L1244.6,512.6 L1248.6,517.7 L1247.2,522.7 L1250.3,528.7 L1247.2,536.8 L1245.2,544.9 L1246.6,552.9" stroke-width="4.2"/>
<path d="M1244.2,488.4 L1241.2,498.5 L1242.2,508.6 L1240.2,500.5" stroke-width="4.2"/>
<path d="M1220,498.5 L1226.1,506.6 L1224,514.6 L1230.1,518.7 L1232.1,525.7" stroke-width="4.2"/>
<path d="M1255.3,520.7 L1251.3,528.7 L1254.3,534.8 L1250.3,540.8" stroke-width="4.2"/>
<path d="M1230.1,569.1 L1246.2,571.1 L1240.2,577.2 L1248.2,581.2 L1242.2,585.2 L1250.3,588.2 L1244.2,591.3" stroke-width="4.2"/>
<path d="M1226.1,591.3 L1236.1,595.3 L1230.1,601.4 L1240.2,603.4 L1235.1,611.4 L1228.1,607.4" stroke-width="4.2"/>
<path d="M1232.1,574.1 L1234.1,581.2 L1239.2,582.2" stroke-width="4.2"/>
</g>
<path d="M266.5,522.5 L273.2,519.6 L277,526.3 L273.9,531.9 L279.2,538.6 L275.7,541.8 L269.8,536.8 L267.6,529.7Z" fill="#000" stroke="#000" stroke-width="1.5" stroke-linejoin="round"/>
<path d="M261.2,235.9 L262.2,240.2 L267.3,242.2 L269.6,246.9 L268.9,253.6 L273.6,260.4 L272.9,265.7 L272.2,276.5 L267.3,283.5 L260.5,287.5 L255.2,284.8 L252.9,277.9 L256.5,271.1 L260.3,264.4 L259.9,259 L259.2,252.3 L253.8,249.9 L251.8,245.6 L257.2,242.2 L260.5,240.2Z" fill="#000" stroke="#000" stroke-width="2" stroke-linejoin="round"/>
<path d="M1101.1,789.6 L1105.9,787.8 L1111.8,789.6 L1112.1,794.8 L1107.4,797.7 L1102.9,796.3Z" fill="#000"/>
<path d="M1113.6,815.1 L1119.9,814.8 L1120.7,820.7 L1116.2,822.2Z" fill="#000"/>
<path d="M1136.7,858.9 L1142.9,857.7 L1144.7,863.6 L1139.9,866.6 L1137,863.6Z" fill="#000"/>
<path d="M309.1,628.8 L318.2,627.2 L330.3,628.8 L331.3,631.8 L320.2,633.3 L310.1,631.8Z" fill="#b8e020"/>
<path d="M328.3,650 L331.3,649 L332.3,652.6 L329.5,653.4Z" fill="#ccff00"/>
<path d="M348.4,644.6 L352.9,645 L355.5,650 L351.5,649Z" fill="#68a66c"/>
<path d="M348,656.1 L350.5,655.5 L354.5,662.1 L352.1,663.5Z" fill="#68a66c"/>
<path d="M1100,877.8 L1114.7,879.5 L1131.6,877.3 L1145.7,870.2 L1155.6,860.3 L1157.6,861.7 L1148.6,872.2 L1133,880.1 L1114.7,881.8 L1100,880.1Z" fill="#aaf5e1"/>
<path d="M1353.9,433.3 L1358.8,432.1 L1361.3,435 L1356.3,437Z" fill="#000" stroke="#000" stroke-width="2" stroke-linejoin="round"/>
<path d="M1368.7,437 L1373.6,435.8 L1375.3,439 L1370.4,440.7Z" fill="#000" stroke="#000" stroke-width="2" stroke-linejoin="round"/>
<path d="M1337.8,440.7 L1341.5,439.5 L1342.8,442.4 L1339.1,443.4Z" fill="#f5cccc"/>
</svg></body></html>
